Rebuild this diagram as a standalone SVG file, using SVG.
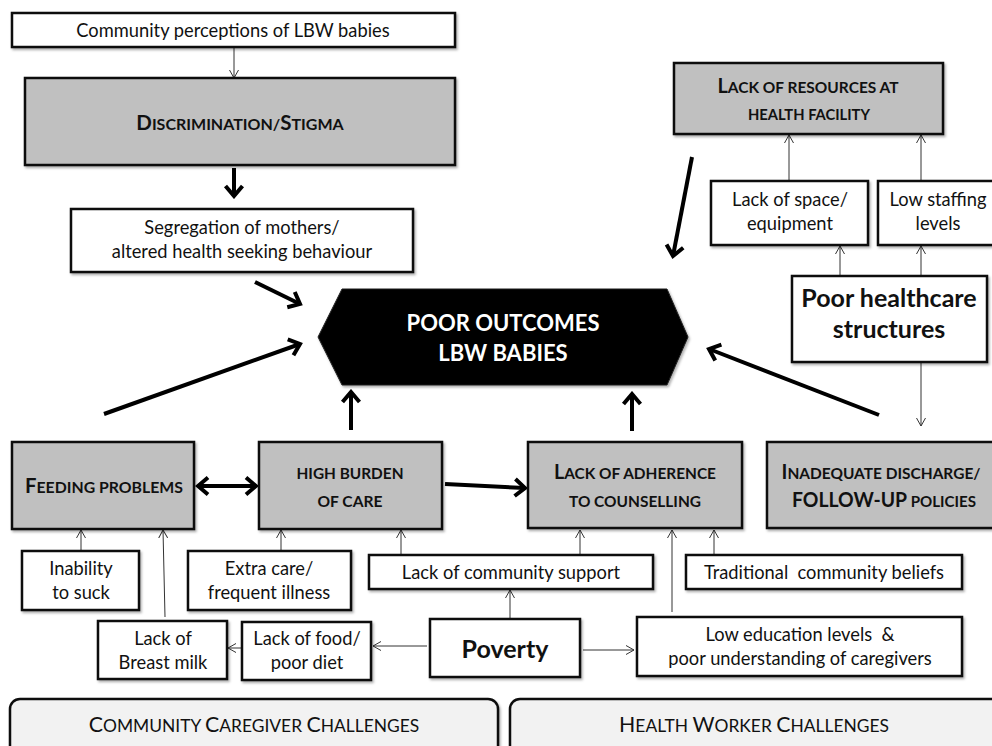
<svg xmlns="http://www.w3.org/2000/svg" width="992" height="746" viewBox="0 0 992 746">
<defs>
<style>
text{font-family:Lato,"Open Sans","Liberation Sans",sans-serif;fill:#111;text-anchor:middle}
.t{font-size:18.3px}
.sc{font-size:16px;font-weight:bold}
.L{font-size:20.5px}
.b{font-size:25px;font-weight:bold}
.w{fill:#fff;stroke:#111;stroke-width:2.5;filter:url(#sh)}
.g{fill:#c0c0c0;stroke:#111;stroke-width:2.5;filter:url(#sh)}
.f{fill:#f2f2f2;stroke:#111;stroke-width:2.5;filter:url(#sh)}
.thin{stroke:#333;stroke-width:1;fill:none;marker-end:url(#ah)}
.thick{stroke:#000;stroke-width:4;fill:none;marker-end:url(#AH)}
.foot{font-size:17.4px}
.FL{font-size:21.3px}
</style>
<filter id="sh" x="-5%" y="-5%" width="115%" height="130%">
<feDropShadow dx="1.5" dy="2" stdDeviation="1.2" flood-color="#000" flood-opacity="0.3"/>
</filter>
<marker id="ah" viewBox="0 0 8 10" refX="8" refY="5" markerWidth="8" markerHeight="10" markerUnits="userSpaceOnUse" orient="auto-start-reverse">
<path d="M0,0.5 L8,5 L0,9.5" fill="none" stroke="#333" stroke-width="1"/>
</marker>
<marker id="AH" viewBox="0 0 16 22" refX="13" refY="11" markerWidth="16" markerHeight="22" markerUnits="userSpaceOnUse" orient="auto-start-reverse">
<path d="M3,2.5 L13,11 L3,19.5" fill="none" stroke="#000" stroke-width="4"/>
</marker>
</defs>
<rect width="992" height="746" fill="#fff"/>

<g id="connectors">
<line class="thin" x1="234" y1="47" x2="234" y2="78"/>
<line class="thick" x1="234" y1="168" x2="234" y2="196"/>
<line class="thick" x1="255" y1="282" x2="300" y2="304"/>
<line class="thick" x1="104" y1="414" x2="300" y2="344"/>
<line class="thick" x1="692" y1="157" x2="673" y2="256"/>
<line class="thick" x1="879" y1="415" x2="709" y2="349"/>
<line class="thick" x1="351" y1="430" x2="351" y2="392"/>
<line class="thick" x1="632" y1="431" x2="632" y2="394"/>
<line class="thick" x1="198" y1="486" x2="256" y2="486" style="marker-start:url(#AH)"/>
<line class="thick" x1="445" y1="484" x2="525" y2="488"/>
<line class="thin" x1="789" y1="181" x2="789" y2="135"/>
<line class="thin" x1="921" y1="181" x2="921" y2="135"/>
<line class="thin" x1="840" y1="276" x2="840" y2="246"/>
<line class="thin" x1="921" y1="276" x2="921" y2="246"/>
<line class="thin" x1="921" y1="362" x2="921" y2="426"/>
<line class="thin" x1="81" y1="550" x2="81" y2="530"/>
<line class="thin" x1="281" y1="550" x2="281" y2="530"/>
<line class="thin" x1="401" y1="554" x2="401" y2="530"/>
<line class="thin" x1="580" y1="554" x2="580" y2="530"/>
<line class="thin" x1="714" y1="554" x2="714" y2="530"/>
<line class="thin" x1="672" y1="612" x2="672" y2="530"/>
<line class="thin" x1="165" y1="617" x2="163" y2="530"/>
<line class="thin" x1="241" y1="648" x2="228" y2="648"/>
<line class="thin" x1="427" y1="646" x2="373" y2="646"/>
<line class="thin" x1="510" y1="618" x2="510" y2="590"/>
<line class="thin" x1="583" y1="650" x2="634" y2="650"/>
</g>

<g id="community-perceptions"><rect class="w" x="12" y="13" width="443" height="34"/><text class="t" x="233" y="37">Community perceptions of LBW babies</text></g>
<g id="discrimination"><rect class="g" x="25" y="78" width="430" height="87"/><text class="sc" x="240" y="130"><tspan class="L">D</tspan>ISCRIMINATION/<tspan class="L">S</tspan>TIGMA</text></g>
<g id="segregation"><rect class="w" x="71" y="209" width="342" height="63"/><text class="t" x="242" y="234">Segregation of mothers/</text><text class="t" x="242" y="258">altered health seeking behaviour</text></g>
<g id="lack-resources"><rect class="g" x="674" y="63" width="269" height="71"/><text class="sc" x="808" y="93" textLength="181" lengthAdjust="spacingAndGlyphs"><tspan class="L">L</tspan>ACK OF RESOURCES AT</text><text class="sc" x="809" y="120" textLength="122" lengthAdjust="spacingAndGlyphs">HEALTH FACILITY</text></g>
<g id="lack-space"><rect class="w" x="711" y="181" width="157" height="64"/><text class="t" x="790" y="206">Lack of space/</text><text class="t" x="790" y="230">equipment</text></g>
<g id="low-staffing"><rect class="w" x="878" y="181" width="122" height="64"/><text class="t" x="938" y="206">Low staffing</text><text class="t" x="938" y="230">levels</text></g>
<g id="poor-healthcare"><rect class="w" x="792" y="276" width="195" height="86"/><text class="b" x="889" y="307">Poor healthcare</text><text class="b" x="889" y="338">structures</text></g>
<g id="poor-outcomes"><polygon points="318,337 342,289 667,289 688,337 667,385 342,385" fill="#000" stroke="#222" stroke-width="1" filter="url(#sh)"/><text x="503" y="331" style="font-size:22px;font-weight:bold;fill:#fff">POOR OUTCOMES</text><text x="503" y="361" style="font-size:22px;font-weight:bold;fill:#fff">LBW BABIES</text></g>
<g id="feeding"><rect class="g" x="12" y="442" width="182" height="87"/><text class="sc" x="104" y="493" textLength="158" lengthAdjust="spacingAndGlyphs"><tspan class="L">F</tspan>EEDING PROBLEMS</text></g>
<g id="high-burden"><rect class="g" x="259" y="442" width="183" height="87"/><text class="sc" x="350" y="479" textLength="107" lengthAdjust="spacingAndGlyphs">HIGH BURDEN</text><text class="sc" x="350" y="507" textLength="65" lengthAdjust="spacingAndGlyphs">OF CARE</text></g>
<g id="lack-adherence"><rect class="g" x="528" y="442" width="214" height="86"/><text class="sc" x="635" y="479" textLength="162" lengthAdjust="spacingAndGlyphs"><tspan class="L">L</tspan>ACK OF ADHERENCE</text><text class="sc" x="635" y="507" textLength="132" lengthAdjust="spacingAndGlyphs">TO COUNSELLING</text></g>
<g id="inadequate"><rect class="g" x="767" y="442" width="240" height="86"/><text class="sc" x="881" y="479" textLength="199" lengthAdjust="spacingAndGlyphs"><tspan class="L">I</tspan>NADEQUATE DISCHARGE/</text><text class="sc" x="884" y="507" textLength="184" lengthAdjust="spacingAndGlyphs"><tspan class="L">FOLLOW-UP</tspan> POLICIES</text></g>
<g id="inability"><rect class="w" x="22" y="551" width="117" height="59"/><text class="t" x="81" y="575">Inability</text><text class="t" x="81" y="599">to suck</text></g>
<g id="extra-care"><rect class="w" x="188" y="551" width="163" height="59"/><text class="t" x="269" y="575">Extra care/</text><text class="t" x="269" y="599">frequent illness</text></g>
<g id="community-support"><rect class="w" x="369" y="555" width="284" height="34"/><text class="t" x="511" y="579">Lack of community support</text></g>
<g id="traditional"><rect class="w" x="686" y="555" width="276" height="34"/><text class="t" x="824" y="579" style="white-space:pre">Traditional  community beliefs</text></g>
<g id="breast-milk"><rect class="w" x="98" y="621" width="129" height="58"/><text class="t" x="163" y="645">Lack of</text><text class="t" x="163" y="669">Breast milk</text></g>
<g id="food"><rect class="w" x="242" y="622" width="129" height="58"/><text class="t" x="307" y="645">Lack of food/</text><text class="t" x="307" y="669">poor diet</text></g>
<g id="poverty"><rect class="w" x="430" y="619" width="150" height="58"/><text class="b" x="505" y="658">Poverty</text></g>
<g id="low-education"><rect class="w" x="637" y="617" width="325" height="59"/><text class="t" x="800" y="641" style="white-space:pre">Low education levels  &amp;</text><text class="t" x="800" y="665">poor understanding of caregivers</text></g>
<g id="community-caregiver"><rect class="f" x="10" y="699" width="488" height="60" rx="10"/><text class="foot" x="254" y="732"><tspan class="FL">C</tspan>OMMUNITY <tspan class="FL">C</tspan>AREGIVER <tspan class="FL">C</tspan>HALLENGES</text></g>
<g id="health-worker"><rect class="f" x="510" y="699" width="500" height="60" rx="10"/><text class="foot" x="754" y="732"><tspan class="FL">H</tspan>EALTH <tspan class="FL">W</tspan>ORKER <tspan class="FL">C</tspan>HALLENGES</text></g>
</svg>
